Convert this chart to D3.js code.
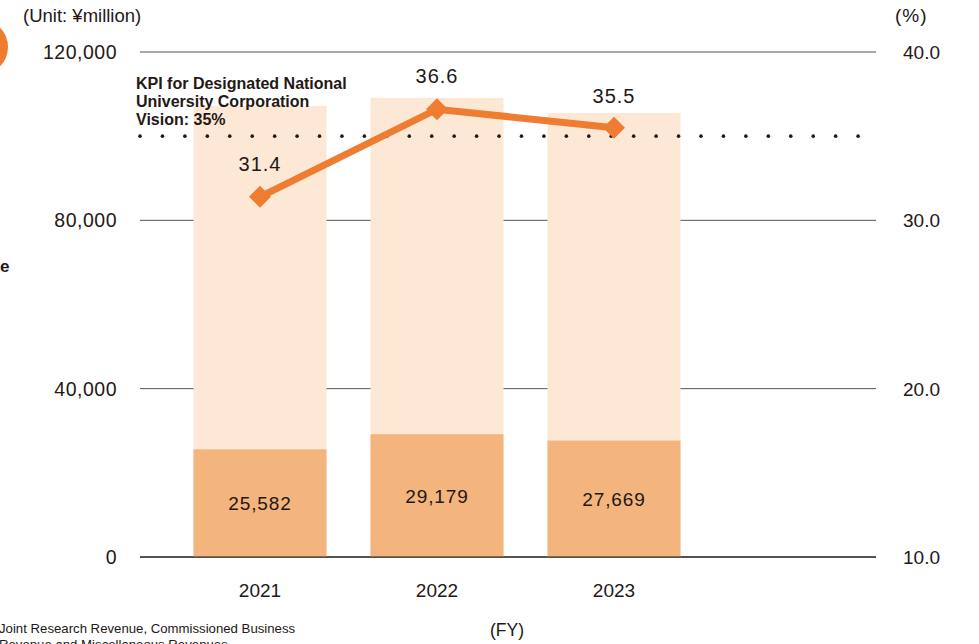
<!DOCTYPE html>
<html lang="en">
<head>
<meta charset="utf-8">
<title>Research revenue chart</title>
<script src="https://cdnjs.cloudflare.com/ajax/libs/d3/7.8.5/d3.min.js"></script>
<style>
    body { margin: 0; background: #fff; }
    svg text { font-family: "Liberation Sans", Arial, sans-serif; fill: #231815; }
</style>
</head>
<body>
<div id="chart"></div>
<script>
    // data
    var years = ["2021", "2022", "2023"];
    var totalRevenue = [107200, 109100, 105500];   // light bars (estimated)
    var jointRevenue = [25582, 29179, 27669];      // dark bars
    var ratio = [31.4, 36.6, 35.5];                // line, %
    var kpi = 35;
    var leftTicks = [0, 40000, 80000, 120000];
    var rightTicks = [10, 20, 30, 40];

    var W = 979, H = 644;
    var svg = d3.select("#chart").append("svg")
        .attr("width", W)
        .attr("height", H);

    var yL = d3.scaleLinear().domain([0, 120000]).range([557, 52]);
    var yR = d3.scaleLinear().domain([10, 40]).range([557, 52]);
    var x = d3.scalePoint().domain(years).range([260, 614]);
    var barW = 133;
    var gridX0 = 140, gridX1 = 876;

    // orange badge cut at the left edge
    svg.append("circle").attr("cx", -20).attr("cy", 47).attr("r", 28).attr("fill", "#ef7d2f");

    // gridlines
    svg.selectAll("line.grid").data(leftTicks).enter().append("line")
        .attr("class", "grid")
        .attr("x1", gridX0).attr("x2", gridX1)
        .attr("y1", function (d) { return yL(d); })
        .attr("y2", function (d) { return yL(d); })
        .attr("stroke", function (d) { return d === 0 ? "#231815" : "#555"; })
        .attr("stroke-width", 1);

    // bars
    svg.selectAll("rect.total").data(years).enter().append("rect")
        .attr("class", "total")
        .attr("x", function (d) { return x(d) - barW / 2; })
        .attr("width", barW)
        .attr("y", function (d, i) { return yL(totalRevenue[i]); })
        .attr("height", function (d, i) { return yL(0) - yL(totalRevenue[i]); })
        .attr("fill", "#fde7d5");

    svg.selectAll("rect.joint").data(years).enter().append("rect")
        .attr("class", "joint")
        .attr("x", function (d) { return x(d) - barW / 2; })
        .attr("width", barW)
        .attr("y", function (d, i) { return yL(jointRevenue[i]); })
        .attr("height", function (d, i) { return yL(0) - yL(jointRevenue[i]); })
        .attr("fill", "#f4b47e");

    // baseline over bars
    svg.append("line")
        .attr("x1", gridX0).attr("x2", gridX1)
        .attr("y1", yL(0)).attr("y2", yL(0))
        .attr("stroke", "#231815").attr("stroke-width", 1.2);

    svg.selectAll("text.jointLabel").data(years).enter().append("text")
        .attr("class", "jointLabel")
        .attr("x", function (d) { return x(d); })
        .attr("y", function (d, i) { return (yL(jointRevenue[i]) + yL(0)) / 2 + 7; })
        .attr("text-anchor", "middle")
        .attr("font-size", 19)
        .attr("letter-spacing", 0.9)
        .text(function (d, i) { return d3.format(",")(jointRevenue[i]); });

    // KPI dotted line
    var dots = d3.range(33).map(function (i) { return gridX0 + i * 22.44; });
    svg.selectAll("circle.kpi").data(dots).enter().append("circle")
        .attr("class", "kpi")
        .attr("cx", function (d) { return d; })
        .attr("cy", yR(kpi))
        .attr("r", 1.8)
        .attr("fill", "#231815");

    var kpiText = svg.append("text").attr("x", 136).attr("y", 89)
        .attr("font-size", 16).attr("font-weight", "bold");
    ["KPI for Designated National", "University Corporation", "Vision: 35%"].forEach(function (t, i) {
        kpiText.append("tspan").attr("x", 136).attr("dy", i === 0 ? 0 : 18).text(t);
    });

    // ratio line
    var line = d3.line()
        .x(function (d, i) { return x(years[i]); })
        .y(function (d) { return yR(d); });
    svg.append("path").datum(ratio)
        .attr("d", line)
        .attr("fill", "none")
        .attr("stroke", "#ef7d31")
        .attr("stroke-width", 7);

    svg.selectAll("path.marker").data(ratio).enter().append("path")
        .attr("class", "marker")
        .attr("d", d3.symbol().type(d3.symbolSquare).size(240))
        .attr("transform", function (d, i) { return "translate(" + x(years[i]) + "," + yR(d) + ") rotate(45)"; })
        .attr("fill", "#ef7d31");

    var labelDy = [-26, -26, -25];
    svg.selectAll("text.ratioLabel").data(ratio).enter().append("text")
        .attr("class", "ratioLabel")
        .attr("x", function (d, i) { return x(years[i]); })
        .attr("y", function (d, i) { return yR(d) + labelDy[i]; })
        .attr("text-anchor", "middle")
        .attr("font-size", 20)
        .attr("letter-spacing", 1)
        .text(function (d) { return d.toFixed(1); });

    // axis labels
    svg.selectAll("text.leftTick").data(leftTicks).enter().append("text")
        .attr("class", "leftTick")
        .attr("x", 117)
        .attr("y", function (d) { return yL(d) + 7; })
        .attr("text-anchor", "end")
        .attr("font-size", 19.5)
        .attr("letter-spacing", 0.5)
        .text(function (d) { return d3.format(",")(d); });

    svg.selectAll("text.rightTick").data(rightTicks).enter().append("text")
        .attr("class", "rightTick")
        .attr("x", 903)
        .attr("y", function (d) { return yR(d) + 7; })
        .attr("font-size", 19)
        .text(function (d) { return d.toFixed(1); });

    svg.selectAll("text.year").data(years).enter().append("text")
        .attr("class", "year")
        .attr("x", function (d) { return x(d); })
        .attr("y", 597)
        .attr("text-anchor", "middle")
        .attr("font-size", 19)
        .text(function (d) { return d; });

    svg.append("text").attr("x", 23).attr("y", 22).attr("font-size", 18.5).text("(Unit: ¥million)");
    svg.append("text").attr("x", 895).attr("y", 22).attr("font-size", 19).attr("letter-spacing", 1).text("(%)");
    svg.append("text").attr("x", 507).attr("y", 636).attr("text-anchor", "middle").attr("font-size", 17.5).text("(FY)");

    // texts cut at the edges of the picture
    svg.append("text").attr("x", 0).attr("y", 272).attr("font-size", 17).attr("font-weight", "bold").text("e");
    svg.append("text").attr("x", -1).attr("y", 633).attr("font-size", 13.2).text("Joint Research Revenue, Commissioned Business");
    svg.append("text").attr("x", -1).attr("y", 649).attr("font-size", 13.2).text("Revenue and Miscellaneous Revenues");
</script>
</body>
</html>
